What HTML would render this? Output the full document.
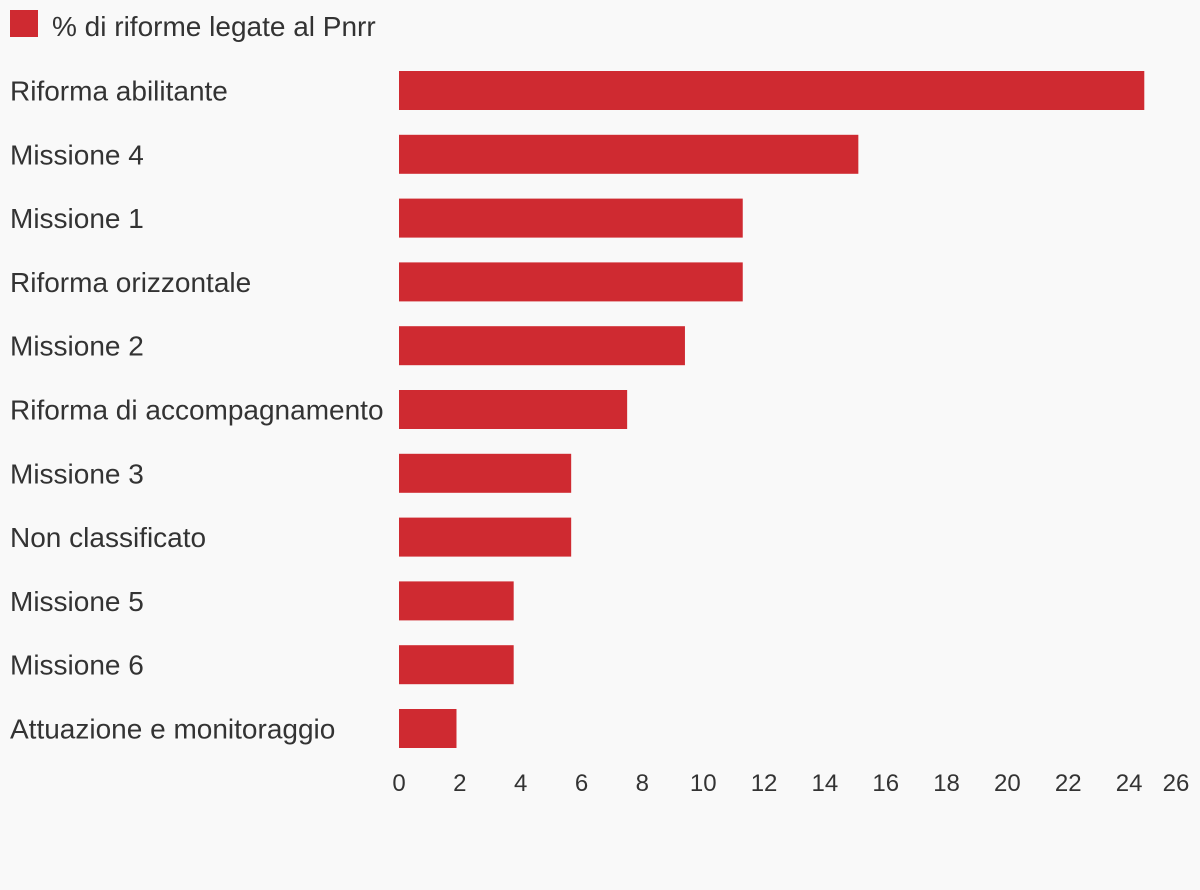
<!DOCTYPE html>
<html><head><meta charset="utf-8"><style>
html,body{margin:0;padding:0;background:#f9f9f9;}
svg{display:block;font-family:"Liberation Sans",sans-serif;}
</style></head><body>
<svg id="chart" width="1200" height="890">
<rect x="0" y="0" width="1200" height="890" fill="#f9f9f9"/>
<g>
<rect x="10" y="10" width="28" height="27" fill="#cf2a31"/>
<text x="52" y="36" font-size="28" fill="#333">% di riforme legate al Pnrr</text>
</g>
<g id="bars"></g>
<g id="xaxis"></g>
</svg>
<script>
const categories = ["Riforma abilitante","Missione 4","Missione 1","Riforma orizzontale","Missione 2","Riforma di accompagnamento","Missione 3","Non classificato","Missione 5","Missione 6","Attuazione e monitoraggio"];
const values = [24.5,15.1,11.3,11.3,9.4,7.5,5.66,5.66,3.77,3.77,1.89];
const ticks = [0,2,4,6,8,10,12,14,16,18,20,22,24,26];
const NS="http://www.w3.org/2000/svg";
const x0=399, pxPerUnit=30.42;
function xs(v){return x0+v*pxPerUnit;}
const top0=90.5, step=63.8, bh=39;
function yc(i){return top0+i*step;}
const bars=document.getElementById('bars');
categories.forEach((c,i)=>{
  const t=document.createElementNS(NS,'text');
  t.setAttribute('x',10);t.setAttribute('y',yc(i)+10);
  t.setAttribute('font-size','28');t.setAttribute('fill','#333');
  t.textContent=c;
  
  
  bars.appendChild(t);
  const r=document.createElementNS(NS,'rect');
  r.setAttribute('x',xs(0));r.setAttribute('y',yc(i)-bh/2);
  r.setAttribute('width',xs(values[i])-xs(0));r.setAttribute('height',bh);
  r.setAttribute('fill','#cf2a31');
  
  
  bars.appendChild(r);
});
const ax=document.getElementById('xaxis');
ticks.forEach(v=>{
  const t=document.createElementNS(NS,'text');
  let x=xs(v); if(x>1176) x=1176;
  t.setAttribute('x',x);t.setAttribute('y',791);
  t.setAttribute('font-size','24');t.setAttribute('fill','#333');
  t.setAttribute('text-anchor','middle');
  t.textContent=v;
  
  
  ax.appendChild(t);
});
</script>
</body></html>
